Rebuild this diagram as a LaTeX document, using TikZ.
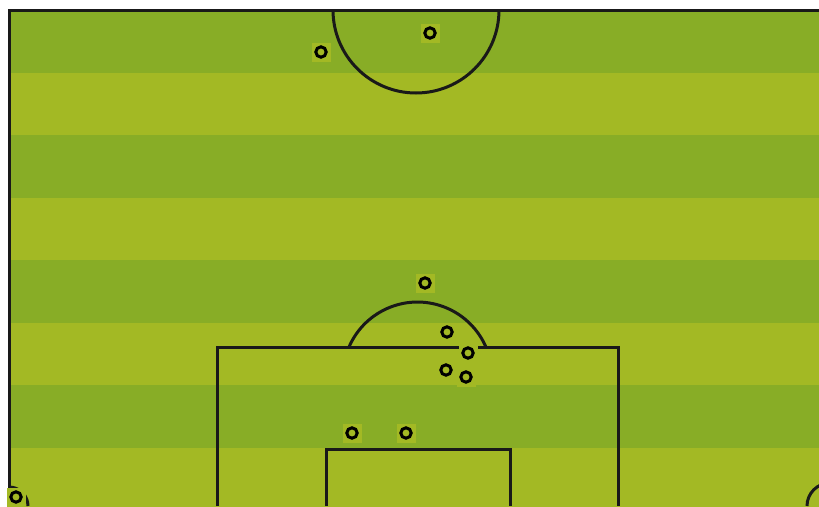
\documentclass[tikz,border=0pt]{standalone}
\usepackage{tikz}
\definecolor{pitchdark}{RGB}{136,173,38}
\definecolor{pitchlight}{RGB}{163,185,36}
\tikzset{
  pitchline/.style={line width=3pt, black!90},
  player/.style={rectangle, fill=pitchlight, inner sep=0pt, minimum size=19pt,
    path picture={\draw[line width=3pt] (path picture bounding box.center) circle (5.2pt);}}
}

\begin{document}
\begin{tikzpicture}[x=1pt,y=-1pt]
                    \useasboundingbox (0,0) rectangle (819,506);
                    \clip (0,0) rectangle (819,506);
                    % Stripes
                    \fill[white] (0,0) rectangle (819,506);
                    \foreach \y/\c in {10/pitchdark, 72.5/pitchlight, 135/pitchdark, 197.5/pitchlight,
                                       260/pitchdark, 322.5/pitchlight, 385/pitchdark, 447.5/pitchlight}
                        \fill[\c] (9,\y) rectangle (819,\y+62.5);
                    % Lines
                    \draw[pitchline] (9,506) -- (9,10) -- (819,10);
                    \draw[pitchline] (333,10) arc[start angle=180, end angle=0, radius=83];
                    \draw[pitchline] (217,506) -- (217,347) -- (618,347) -- (618,506);
                    \draw[pitchline] (326,506) -- (326,449) -- (510,449) -- (510,506);
                    \draw[pitchline] (349,347) arc[start angle=203.4, end angle=336.6, radius=74.6];
                    \draw[pitchline] (9,487) arc[start angle=270, end angle=360, radius=19];
                    \draw[pitchline] (807,506) arc[start angle=180, end angle=270, radius=23];
                    % Players
                    \node[player] (p1) at (321,52) {};
                    \node[player] (p2) at (430,33) {};
                    \node[player] (p3) at (425,283) {};
                    \node[player] (p4) at (447,332) {};
                    \node[player] (p5) at (468,353) {};
                    \node[player] (p6) at (446,370) {};
                    \node[player] (p7) at (466,377) {};
                    \node[player] (p8) at (352,433) {};
                    \node[player] (p9) at (406,433) {};
                    \node[player] (p10) at (16,497) {};
                \end{tikzpicture}
\end{document}
